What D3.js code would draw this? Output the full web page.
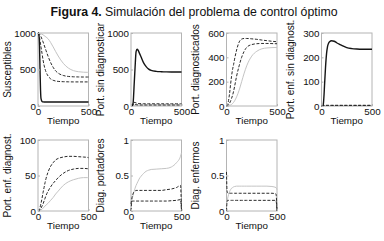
<!DOCTYPE html>
<html>
<head>
<meta charset="utf-8">
<script src="https://cdn.jsdelivr.net/npm/d3@7"></script>
<style>
  body { margin: 0; background: #fff; }
  svg { display: block; font-family: "Liberation Sans", Arial, sans-serif; }
</style>
</head>
<body>
<div id="fig"></div>
<script>
// time grid shared by all curves
const tiempo = [0, 5, 10, 15, 20, 25, 30, 40, 50, 60, 70, 80, 100, 125, 150, 175, 200, 250, 300, 350, 400, 450, 490, 500];
const xTicks = [0, 500];

// Susceptibles
const suscSolid = [1000, 995, 960, 820, 500, 220, 100, 62, 56, 55, 55, 55, 55, 55, 55, 55, 55, 55, 55, 55, 55, 55, 55, 55];
const suscGrey = [1000, 1000, 999, 998, 996, 993, 990, 983, 975, 965, 955, 944, 920, 870, 810, 745, 685, 585, 520, 485, 470, 463, 461, 460];
const suscDash1 = [1000, 998, 993, 985, 975, 962, 948, 915, 878, 838, 797, 757, 680, 595, 530, 480, 450, 418, 405, 400, 398, 397, 397, 397];
const suscDash2 = [1000, 990, 968, 935, 895, 850, 805, 720, 630, 560, 505, 465, 410, 372, 352, 342, 337, 333, 331, 330, 330, 330, 330, 330];

// Portadores sin diagnosticar
const sinDiagSolid = [0, 0, 2, 8, 30, 120, 260, 520, 740, 778, 765, 735, 670, 590, 540, 505, 488, 475, 470, 467, 466, 466, 466, 466];
const sinDiagGrey = [0, 1, 3, 5, 7, 8, 9, 10, 10, 10, 10, 10, 10, 10, 10, 10, 10, 10, 10, 10, 10, 10, 10, 10];
const sinDiagDash1 = [0, 5, 15, 30, 42, 48, 50, 48, 42, 38, 35, 33, 32, 31, 30, 30, 30, 30, 30, 30, 30, 30, 30, 30];
const sinDiagDash2 = [0, 3, 8, 14, 18, 20, 21, 20, 18, 16, 15, 15, 14, 14, 14, 14, 14, 14, 14, 14, 14, 14, 14, 14];

// Portadores diagnosticados
const diagGrey = [0, 0, 1, 2, 3, 4, 5, 8, 13, 20, 30, 42, 75, 130, 200, 270, 330, 410, 450, 470, 477, 480, 481, 481];
const diagDash1 = [0, 3, 10, 25, 45, 70, 100, 175, 245, 300, 340, 385, 460, 525, 550, 555, 555, 552, 548, 542, 537, 532, 529, 528];
const diagDash2 = [0, 1, 3, 6, 10, 15, 22, 40, 62, 88, 120, 160, 245, 330, 400, 450, 482, 505, 512, 514, 514, 513, 512, 512];

// Portadores enfermos sin diagnosticar
const enfSinSolid = [0, 0, 0, 2, 15, 45, 85, 160, 215, 245, 258, 264, 268, 266, 260, 254, 249, 240, 236, 234, 233, 233, 233, 233];
const enfSinGrey = [0, 0, 1, 1, 1, 1, 1, 1, 1, 1, 1, 1, 1, 1, 1, 1, 1, 1, 1, 1, 1, 1, 1, 1];
const enfSinDash1 = [0, 1, 2, 3, 3, 3, 3, 3, 3, 3, 3, 3, 3, 3, 3, 3, 3, 3, 3, 3, 3, 3, 3, 3];
const enfSinDash2 = [0, 0, 1, 1, 2, 2, 2, 2, 2, 2, 2, 2, 2, 2, 2, 2, 2, 2, 2, 2, 2, 2, 2, 2];

// Portadores enfermos diagnosticados
const enfDiagGrey = [0, 0, 0, 0.3, 0.6, 1, 1.5, 2.5, 4, 5.5, 7, 8.5, 11, 15, 19, 24, 28, 36, 41, 44, 46, 47, 47, 47];
const enfDiagDash1 = [0, 0.5, 1.5, 3, 5, 8, 11, 18, 26, 33, 40, 46, 55, 63, 68, 72, 74, 76, 77, 77, 76.5, 76, 75.5, 75];
const enfDiagDash2 = [0, 0, 0.5, 1, 2, 3, 4, 7, 10, 14, 18, 22, 28, 34, 39, 43, 47, 53, 57, 59, 60, 60, 59.6, 59.5];

// Diagnóstico de portadores (control)
const ctrlPortGrey = [0.1, 0.13, 0.16, 0.19, 0.22, 0.25, 0.27, 0.32, 0.36, 0.39, 0.42, 0.45, 0.49, 0.53, 0.56, 0.575, 0.585, 0.59, 0.595, 0.6, 0.62, 0.68, 0.77, 0.82];
const ctrlPortDash1 = [0.1, 0.15, 0.19, 0.22, 0.24, 0.26, 0.27, 0.28, 0.29, 0.29, 0.29, 0.29, 0.29, 0.29, 0.29, 0.29, 0.29, 0.29, 0.29, 0.3, 0.31, 0.33, 0.36, 0];
const ctrlPortDash2 = [0, 0.1, 0.13, 0.14, 0.14, 0.14, 0.14, 0.14, 0.14, 0.14, 0.14, 0.14, 0.14, 0.14, 0.14, 0.14, 0.14, 0.14, 0.14, 0.14, 0.145, 0.15, 0.16, 0];

// Diagnóstico de enfermos (control)
const ctrlEnfGrey = [0.1, 0.14, 0.17, 0.2, 0.23, 0.25, 0.27, 0.3, 0.32, 0.33, 0.34, 0.345, 0.35, 0.35, 0.35, 0.35, 0.35, 0.35, 0.35, 0.35, 0.35, 0.345, 0.33, 0.3];
const ctrlEnfDash1 = [0.55, 0.3, 0.26, 0.25, 0.25, 0.25, 0.25, 0.25, 0.25, 0.25, 0.25, 0.25, 0.25, 0.25, 0.25, 0.25, 0.25, 0.25, 0.25, 0.25, 0.25, 0.25, 0.24, 0];
const ctrlEnfDash2 = [0, 0.12, 0.15, 0.15, 0.15, 0.15, 0.15, 0.15, 0.15, 0.15, 0.15, 0.15, 0.15, 0.15, 0.15, 0.15, 0.15, 0.15, 0.15, 0.15, 0.15, 0.15, 0.15, 0];

const panelLabels = ["Susceptibles", "Port. sin diagnosticar", "Port. diagnosticados", "Port. enf. sin diagnost.",
    "Port. enf. diagnost.", "Diag. portadores", "Diag. enfermos"];
const panelMax = [1000, 1000, 600, 300, 100, 1, 1];
const panelTicks = [[0, 500, 1000], [0, 500, 1000], [0, 200, 400, 600], [0, 100, 200, 300], [0, 50, 100], [0, 0.5, 1], [0, 0.5, 1]];
const panelSeries = [
    [["grey", suscGrey], ["dash", suscDash1], ["dash", suscDash2], ["solid", suscSolid]],
    [["grey", sinDiagGrey], ["dash", sinDiagDash1], ["dash", sinDiagDash2], ["solid", sinDiagSolid]],
    [["grey", diagGrey], ["dash", diagDash1], ["dash", diagDash2]],
    [["grey", enfSinGrey], ["dash", enfSinDash1], ["dash", enfSinDash2], ["solid", enfSinSolid]],
    [["grey", enfDiagGrey], ["dash", enfDiagDash1], ["dash", enfDiagDash2]],
    [["grey", ctrlPortGrey], ["dash", ctrlPortDash1], ["dash", ctrlPortDash2]],
    [["grey", ctrlEnfGrey], ["dash", ctrlEnfDash1], ["dash", ctrlEnfDash2]]
];

const width = 384, height = 241;
const colLeft = [38, 131, 226.5, 321.5];
const rowTop = [33, 140];
const boxW = 50.5;
const boxH = [73, 71];

const svg = d3.select("#fig").append("svg")
    .attr("width", width)
    .attr("height", height);

// title
const title = svg.append("text")
    .attr("x", 194)
    .attr("y", 16)
    .attr("text-anchor", "middle")
    .style("font-size", "12.3px")
    .style("fill", "#111");
title.append("tspan").style("font-weight", "bold").text("Figura 4.");
title.append("tspan").text(" Simulación del problema de control óptimo");

const lineStyle = {
    grey: { stroke: "#c4c4c4", width: 1, dash: null },
    dash: { stroke: "#2a2a2a", width: 1, dash: "3,1.6" },
    solid: { stroke: "#151515", width: 1.4, dash: null }
};

panelLabels.forEach((label, i) => {
    const row = i < 4 ? 0 : 1;
    const col = i % 4;
    const x0 = colLeft[col], y0 = rowTop[row], h = boxH[row];

    const x = d3.scaleLinear().domain([0, 500]).range([x0, x0 + boxW]);
    const y = d3.scaleLinear().domain([0, panelMax[i]]).range([y0 + h, y0]);

    const g = svg.append("g");

    g.append("rect")
        .attr("x", x0).attr("y", y0)
        .attr("width", boxW).attr("height", h)
        .attr("fill", "none")
        .attr("stroke", "#b4b4b4")
        .attr("stroke-width", 1);

    const line = d3.line()
        .x((d, k) => x(tiempo[k]))
        .y(d => y(d))
        .curve(d3.curveMonotoneX);

    panelSeries[i].forEach(([kind, values]) => {
        const st = lineStyle[kind];
        g.append("path")
            .datum(values)
            .attr("d", line)
            .attr("fill", "none")
            .attr("stroke", st.stroke)
            .attr("stroke-width", st.width)
            .attr("stroke-dasharray", st.dash);
    });

    // axes with small inward ticks
    const yAxis = g.append("g")
        .attr("transform", `translate(${x0},0)`)
        .call(d3.axisLeft(y).tickValues(panelTicks[i]).tickSize(-2).tickPadding(2).tickFormat(d3.format("")));
    const xAxis = g.append("g")
        .attr("transform", `translate(0,${y0 + h})`)
        .call(d3.axisBottom(x).tickValues(xTicks).tickSize(-2).tickPadding(2));

    [yAxis, xAxis].forEach(a => {
        a.select(".domain").remove();
        a.selectAll("line").attr("stroke", "#b4b4b4");
        a.selectAll("text").style("font-size", "9.8px").attr("fill", "#111");
    });

    g.append("text")
        .attr("x", x0 + boxW / 2)
        .attr("y", y0 + h + 18)
        .attr("text-anchor", "middle")
        .style("font-size", "9.8px")
        .style("fill", "#111")
        .text("Tiempo");

    g.append("text")
        .attr("transform", `translate(${x0 - 27.5},${y0 + h / 2}) rotate(-90)`)
        .attr("text-anchor", "middle")
        .style("font-size", "10px")
        .style("fill", "#111")
        .text(label);
});
</script>
</body>
</html>
